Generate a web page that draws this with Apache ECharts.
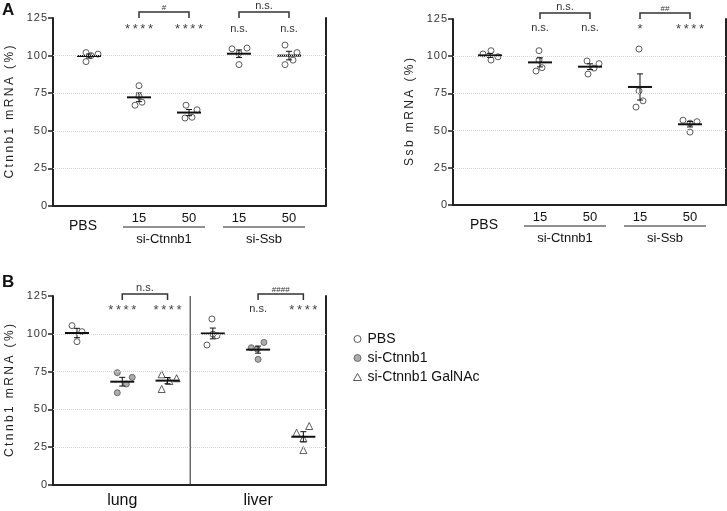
<!DOCTYPE html>
<html><head><meta charset="utf-8">
<script src="https://cdn.jsdelivr.net/npm/echarts@6/dist/echarts.min.js"></script>
<style>html,body{margin:0;padding:0;background:#fff}#c{width:727px;height:511px}</style>
</head><body><div id="c"></div>
<script>
// ---------- DATA ----------
const yTicks = [0, 25, 50, 75, 100, 125];
// Panel A
const catA = ['PBS', '15', '50', '15', '50'];
const groupsA = [['si-Ctnnb1', 1, 2], ['si-Ssb', 3, 4]];
const ctnnb1A = [[102, 100, 101, 96], [80, 73, 67, 69], [67, 58.5, 59, 64], [104.5, 105, 101.5, 94], [107, 102, 97, 94]];
const ssbA = [[101.5, 103.7, 97.4, 99.6], [103.7, 90, 92.3, 97.4], [96.8, 95, 88, 92], [104.8, 76.7, 70, 65.8], [57, 56, 55, 49]];
const sigA1 = ['', '****', '****', 'n.s.', 'n.s.'];
const bracketsA1 = [[1, 2, '#'], [3, 4, 'n.s.']];
const sigA2 = ['', 'n.s.', 'n.s.', '*', '****'];
const bracketsA2 = [[1, 2, 'n.s.'], [3, 4, '##']];
// Panel B
const tissuesB = ['lung', 'liver'];
const treatB = ['PBS', 'si-Ctnnb1', 'si-Ctnnb1 GalNAc'];
const pbsB = [[105.4, 101.4, 94.8], [109.8, 92.6, 98.7, 99.8]];
const siB = [[74.3, 61, 66.8, 71.2], [90.8, 94.3, 83.1, 89.9]];
const galB = [[73.2, 63.5, 68.8, 70.6], [39, 34.6, 23.1, 30.9]];
const sigB = ['', '****', '****', '', 'n.s.', '****'];
const bracketsB = [[1, 2, 'n.s.'], [4, 5, '####']];

// horizontal jitter of individual points (category units)
const jitA1 = [[-0.06, 0.04, 0.18, -0.06], [0, 0, -0.08, 0.06], [-0.06, -0.08, 0.06, 0.16], [-0.14, 0.16, 0, 0], [-0.08, 0.16, 0.08, -0.08]];
const jitA2 = [[-0.14, 0.02, 0.02, 0.16], [-0.02, -0.08, 0.04, -0.02], [-0.06, 0.18, -0.04, 0.08], [-0.02, -0.02, 0.06, -0.08], [-0.14, 0.14, 0, 0]];
const jitPbsB = [[-0.11, 0.11, 0], [-0.02, -0.13, 0.09, 0]];
const jitSiB = [[-0.11, -0.11, 0.09, 0.22], [-0.15, 0.13, 0, -0.02]];
const jitGalB = [[-0.13, -0.13, 0.04, 0.2], [0.13, -0.15, 0, 0]];

// ---------- HELPERS ----------
const FONT = 'Liberation Sans, Arial, sans-serif';
function stats(a) {
  const n = a.length, m = a.reduce((s, v) => s + v, 0) / n;
  const sd = Math.sqrt(a.reduce((s, v) => s + (v - m) * (v - m), 0) / (n - 1));
  return [m, sd / Math.sqrt(n)];
}
function pts(vals, jit, xIndex) {
  const out = [];
  vals.forEach((arr, i) => arr.forEach((v, k) => out.push([xIndex(i) + jit[i][k], v])));
  return out;
}
function meanData(vals, xIndex) {
  return vals.map((arr, i) => { const s = stats(arr); return [xIndex(i), s[0], s[1]]; });
}
const spaced = (s, sep) => String(s).split('').join(sep);

function renderMean(params, api) {
  const x = api.value(0), m = api.value(1), s = api.value(2);
  const c = api.coord([x, m]), t = api.coord([x, m + s]), b = api.coord([x, m - s]);
  const hw = 12, cw = 3;
  const ls = { stroke: '#111', lineWidth: 1 };
  return {
    type: 'group', children: [
      { type: 'line', shape: { x1: c[0], y1: t[1], x2: c[0], y2: b[1] }, style: ls },
      { type: 'line', shape: { x1: c[0] - cw, y1: t[1], x2: c[0] + cw, y2: t[1] }, style: ls },
      { type: 'line', shape: { x1: c[0] - cw, y1: b[1], x2: c[0] + cw, y2: b[1] }, style: ls },
      { type: 'line', shape: { x1: c[0] - hw, y1: c[1], x2: c[0] + hw, y2: c[1] }, style: { stroke: '#111', lineWidth: 2 } }
    ]
  };
}

const grids = [
  { left: 53, top: 18, width: 273, height: 188 },
  { left: 453, top: 19, width: 273, height: 186 },
  { left: 53, top: 296, width: 273, height: 189 }
];
const xRanges = [[-0.72, 4.74], [-0.74, 4.72], [-0.53, 5.5]];
const yNames = ['Ctnnb1 mRNA (%)', 'Ssb mRNA (%)', 'Ctnnb1 mRNA (%)'];

const xAxes = [], yAxes = [];
grids.forEach((g, i) => {
  xAxes.push({
    gridIndex: i, type: 'value', min: xRanges[i][0], max: xRanges[i][1],
    axisLine: { show: true, onZero: false, lineStyle: { color: '#222', width: 2 } },
    axisTick: { show: false }, axisLabel: { show: false }, splitLine: { show: false }
  });
  yAxes.push({
    gridIndex: i, type: 'value', min: 0, max: 125, interval: 25,
    name: spaced(yNames[i], '\u2009'), nameLocation: 'middle', nameRotate: 90, nameGap: 37,
    nameTextStyle: { fontSize: 12, color: '#222', fontFamily: FONT },
    axisLine: { show: true, onZero: false, lineStyle: { color: '#222', width: 2 } },
    axisTick: { show: true, length: 5, lineStyle: { color: '#222', width: 1.5 } },
    axisLabel: { fontSize: 11, color: '#333', fontFamily: FONT, margin: 6, formatter: v => spaced(v, '\u200A') },
    splitLine: { show: false }
  });
  yAxes.push({
    gridIndex: i, type: 'value', min: 0, max: 125, position: 'right',
    axisLine: { show: true, onZero: false, lineStyle: { color: '#222', width: 2 } },
    axisTick: { show: false }, axisLabel: { show: false }, splitLine: { show: false }
  });
});

const gridLineMark = {
  silent: true, symbol: 'none', label: { show: false },
  lineStyle: { color: '#d6d6d6', type: 'dotted', width: 1 },
  data: yTicks.filter(v => v > 0 && v < 125).map(v => ({ yAxis: v }))
};

const openCircle = { color: '#fff', borderColor: '#333', borderWidth: 1 };
const idA = i => i;

const series = [
  { name: 'A1', type: 'scatter', xAxisIndex: 0, yAxisIndex: 0, symbol: 'circle', symbolSize: 6, itemStyle: openCircle,
    data: pts(ctnnb1A, jitA1, idA), z: 3, markLine: gridLineMark },
  { type: 'custom', xAxisIndex: 0, yAxisIndex: 0, renderItem: renderMean, data: meanData(ctnnb1A, idA), z: 4 },
  { name: 'A2', type: 'scatter', xAxisIndex: 1, yAxisIndex: 2, symbol: 'circle', symbolSize: 6, itemStyle: openCircle,
    data: pts(ssbA, jitA2, idA), z: 3, markLine: gridLineMark },
  { type: 'custom', xAxisIndex: 1, yAxisIndex: 2, renderItem: renderMean, data: meanData(ssbA, idA), z: 4 },
  { name: treatB[0], type: 'scatter', xAxisIndex: 2, yAxisIndex: 4, symbol: 'circle', symbolSize: 6, itemStyle: openCircle,
    data: pbsB.flatMap((arr, t) => arr.map((v, k) => [t * 3 + 0 + jitPbsB[t][k], v])), z: 3, markLine: gridLineMark },
  { name: treatB[1], type: 'scatter', xAxisIndex: 2, yAxisIndex: 4, symbol: 'circle', symbolSize: 6,
    itemStyle: { color: '#999', borderColor: '#555', borderWidth: 1 },
    data: siB.flatMap((arr, t) => arr.map((v, k) => [t * 3 + 1 + jitSiB[t][k], v])), z: 3 },
  { name: treatB[2], type: 'scatter', xAxisIndex: 2, yAxisIndex: 4, symbol: 'triangle', symbolSize: 7,
    itemStyle: { color: '#fff', borderColor: '#333', borderWidth: 1 },
    data: galB.flatMap((arr, t) => arr.map((v, k) => [t * 3 + 2 + jitGalB[t][k], v])), z: 3 },
  { type: 'custom', xAxisIndex: 2, yAxisIndex: 4, renderItem: renderMean, z: 4,
    data: [pbsB, siB, galB].flatMap((grp, j) => grp.map((arr, t) => { const s = stats(arr); return [t * 3 + j, s[0], s[1]]; })) }
];

const chart = echarts.init(document.getElementById('c'), null, { renderer: 'canvas' });
chart.setOption({
  animation: false,
  backgroundColor: '#fff',
  grid: grids,
  xAxis: xAxes,
  yAxis: yAxes,
  legend: {
    data: treatB, orient: 'vertical', left: 348, top: 327, itemWidth: 8, itemHeight: 7, itemGap: 5,
    itemStyle: { borderWidth: 1 },
    textStyle: { fontSize: 14, color: '#111', fontFamily: FONT, padding: [0, 0, 0, 1] }
  },
  series: series
});

// ---------- ANNOTATIONS (positioned through the chart's own scales) ----------
const G = [];
const P = (g, x, y) => chart.convertToPixel({ gridIndex: g }, [x, y]);
function txt(x, y, s, size, color, extra) {
  G.push(Object.assign({ type: 'text', silent: true,
    style: { text: s, x: x, y: y, fontSize: size, fontFamily: FONT, fill: color, align: 'center', verticalAlign: 'middle' } }, extra || {}));
}
function sig(g, arr, yv) {
  arr.forEach((s, i) => {
    if (!s) return;
    const p = P(g, i, yv);
    if (s.startsWith('*')) txt(p[0], p[1] + 1, spaced(s, '\u2009'), 13, '#444');
    else txt(p[0], p[1], s, 11, '#333');
  });
}
function brackets(g, arr, yTop, yLeg) {
  arr.forEach(b => {
    const a = P(g, b[0], yTop), c = P(g, b[1], yTop), l = P(g, b[0], yLeg);
    G.push({ type: 'polyline', silent: true, shape: { points: [[a[0], l[1]], [a[0], a[1]], [c[0], c[1]], [c[0], l[1]]] },
      style: { stroke: '#333', lineWidth: 1.5, fill: null } });
    const isHash = b[2].startsWith('#');
    txt((a[0] + c[0]) / 2, a[1] - (isHash ? 4 : 6), b[2], isHash ? 8 : 11, '#333');
  });
}
sig(0, sigA1, 118); brackets(0, bracketsA1, 129, 125);
sig(1, sigA2, 119); brackets(1, bracketsA2, 129, 125);
sig(2, sigB, 116.4); brackets(2, bracketsB, 126.3, 122.4);

// x labels panel A
[0, 1].forEach(g => {
  const base = P(g, 0, 0)[1];
  catA.forEach((c, i) => {
    const x = P(g, i, 0)[0];
    if (i === 0) txt(x - 6, base + 20, c, 14, '#111');
    else txt(x, base + 12, c, 13, '#111');
  });
  groupsA.forEach(gr => {
    const x1 = P(g, gr[1], 0)[0], x2 = P(g, gr[2], 0)[0];
    const mid = (x1 + x2) / 2;
    G.push({ type: 'line', silent: true, shape: { x1: mid - 41, y1: base + 21, x2: mid + 41, y2: base + 21 }, style: { stroke: '#222', lineWidth: 1 } });
    txt(mid, base + 33, gr[0], 13, '#111');
  });
});
// x labels panel B
{
  const base = P(2, 0, 0)[1];
  tissuesB.forEach((t, i) => { const x = P(2, i * 3 + 1, 0)[0]; txt(x, base + 16, t, 16, '#111'); });
  const d0 = P(2, 2.5, 0), d1 = P(2, 2.5, 125);
  G.push({ type: 'line', silent: true, shape: { x1: d0[0], y1: d0[1], x2: d1[0], y2: d1[1] }, style: { stroke: '#222', lineWidth: 1 } });
}
// panel letters
G.push({ type: 'text', silent: true, style: { text: 'A', x: 2, y: 10, fontSize: 17, fontWeight: 'bold', fontFamily: FONT, fill: '#111', verticalAlign: 'middle' } });
G.push({ type: 'text', silent: true, style: { text: 'B', x: 2, y: 282, fontSize: 17, fontWeight: 'bold', fontFamily: FONT, fill: '#111', verticalAlign: 'middle' } });

chart.setOption({ graphic: G });
</script>
</body></html>
